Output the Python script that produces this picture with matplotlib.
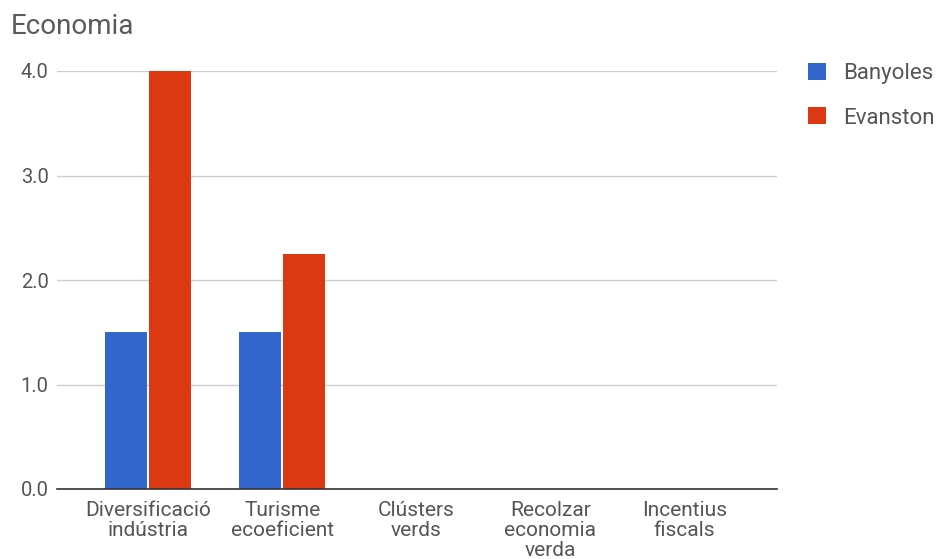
import matplotlib
matplotlib.use('Agg')
import matplotlib.pyplot as plt
import numpy as np

# --- data ---
categories = ["Diversificació\nindústria", "Turisme\necoeficient", "Clústers\nverds",
              "Recolzar\neconomia\nverda", "Incentius\nfiscals"]
banyoles = [1.5, 1.5, 0, 0, 0]
evanston = [4.0, 2.25, 0, 0, 0]
yticks = [0.0, 1.0, 2.0, 3.0, 4.0]

plt.rcParams['font.family'] = ['Roboto', 'DejaVu Sans']
text_col = '#555555'

fig = plt.figure(figsize=(9.44, 5.59), dpi=100)
ax = fig.add_axes([57/944, 1 - 489/559, 720/944, (489 - 71)/559])

x = np.arange(len(categories))
w = 0.313
ax.bar(x - w/2 - 0.008, banyoles, width=w, color='#3366cc', label='Banyoles', zorder=3)
ax.bar(x + w/2 + 0.008, evanston, width=w, color='#dc3912', label='Evanston', zorder=3)

ax.set_xlim(-0.68, 4.69)
ax.set_ylim(0, 4.0)
ax.set_yticks(yticks)
ax.set_yticklabels([f"{v:.1f}" for v in yticks], fontsize=14.5, color=text_col)
ax.set_xticks(x)
ax.set_xticklabels(categories, fontsize=15, color=text_col, linespacing=1.05)
ax.tick_params(axis='both', length=0)
ax.tick_params(axis='y', pad=6)
ax.tick_params(axis='x', pad=9)

ax.grid(axis='y', color='#cccccc', linewidth=1, zorder=0)
for s in ['top', 'right', 'left']:
    ax.spines[s].set_visible(False)
ax.spines['bottom'].set_color('#333333')
ax.spines['bottom'].set_linewidth(1.2)
ax.spines['bottom'].set_zorder(4)

fig.text(11/944, 1 - 26/559, "Economia", fontsize=20, color='#5a5a5a', va='center', ha='left')

leg = ax.legend(loc='upper left', bbox_to_anchor=(799/944, 1 - 54/559), bbox_transform=fig.transFigure,
                frameon=False, fontsize=16, handlelength=0.8, handleheight=0.8,
                labelspacing=1.05, handletextpad=0.77, borderpad=0.4, borderaxespad=0)
for t in leg.get_texts():
    t.set_color(text_col)

fig.savefig('out.png', dpi=100, facecolor='white')
